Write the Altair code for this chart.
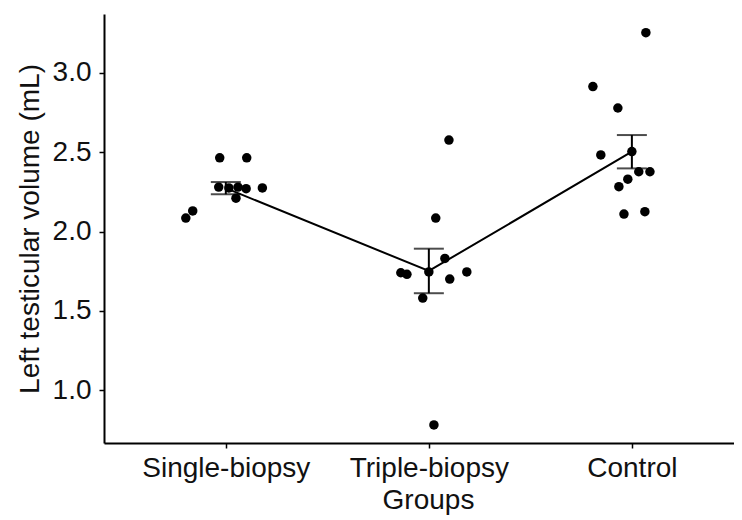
import altair as alt
import pandas as pd

groups = ["Single-biopsy", "Triple-biopsy", "Control"]

single_vol = [2.085, 2.13, 2.465, 2.465, 2.28, 2.275, 2.28, 2.27, 2.21, 2.275]
single_jit = [-0.197, -0.163, -0.03, 0.103, -0.035, 0.015, 0.06, 0.10, 0.05, 0.18]

triple_vol = [2.577, 2.085, 1.83, 1.74, 1.73, 1.745, 1.70, 1.745, 1.58, 0.78]
triple_jit = [0.099, 0.034, 0.079, -0.138, -0.108, 0.0, 0.103, 0.187, -0.03, 0.025]

control_vol = [3.254, 2.914, 2.779, 2.483, 2.504, 2.377, 2.377, 2.33, 2.283, 2.11, 2.125]
control_jit = [0.069, -0.192, -0.069, -0.153, 0.0, 0.034, 0.089, -0.02, -0.064, -0.039, 0.064]

rows = []
for gi, (g, vols, jits) in enumerate(zip(groups,
                                          [single_vol, triple_vol, control_vol],
                                          [single_jit, triple_jit, control_jit])):
    for v, j in zip(vols, jits):
        rows.append({"group": g, "gidx": gi + 1, "pos": gi + 1 + j, "vol": v})
df = pd.DataFrame(rows)

FONT = "Liberation Sans"
TXT = "#111111"

label_expr = " : ".join(
    f"datum.value == {i + 1} ? '{g}'" for i, g in enumerate(groups[:-1])
) + f" : '{groups[-1]}'"

xscale = alt.Scale(domain=[0.4, 3.503], nice=False, zero=False)
yscale = alt.Scale(domain=[0.666, 3.372], nice=False, zero=False)

xaxis = alt.Axis(values=[1, 2, 3], labelExpr=label_expr, title="Groups",
                 grid=False, labelPadding=6, titlePadding=4, titleX=324,
                 titleAnchor="start", titleAlign="center")
yaxis = alt.Axis(values=[1.0, 1.5, 2.0, 2.5, 3.0], format=".1f",
                 title="Left testicular volume (mL)", grid=False,
                 labelPadding=8, titlePadding=8)

base = alt.Chart(df)

points = base.mark_circle(size=90, color="black", opacity=1).encode(
    x=alt.X("pos:Q", scale=xscale, axis=xaxis),
    y=alt.Y("vol:Q", scale=yscale, axis=yaxis),
)

line = base.mark_line(color="black", strokeWidth=2).encode(
    x=alt.X("gidx:Q", scale=xscale, axis=xaxis),
    y=alt.Y("mean(vol):Q", scale=yscale, axis=yaxis),
)

err = base.mark_errorbar(extent="stderr", color="black", thickness=2,
                         ticks=alt.MarkConfig(size=30, color="black")).encode(
    x=alt.X("gidx:Q", scale=xscale, axis=xaxis),
    y=alt.Y("vol:Q", scale=yscale, axis=yaxis),
)

chart = alt.layer(line, err, points).properties(
    width=630, height=429,
    autosize=alt.AutoSizeParams(type="none"),
    padding={"left": 96, "top": 6, "right": 0, "bottom": 75},
).configure_view(stroke=None).configure_axis(
    domainColor="black", domainWidth=2, tickColor="black", tickWidth=1.5,
    tickSize=5, labelFont=FONT, titleFont=FONT, labelFontSize=28,
    titleFontSize=28, labelColor=TXT, titleColor=TXT, titleFontWeight="normal",
    labelFlush=False,
)

chart.save("out.html", embed_options={"renderer": "svg", "actions": False})
